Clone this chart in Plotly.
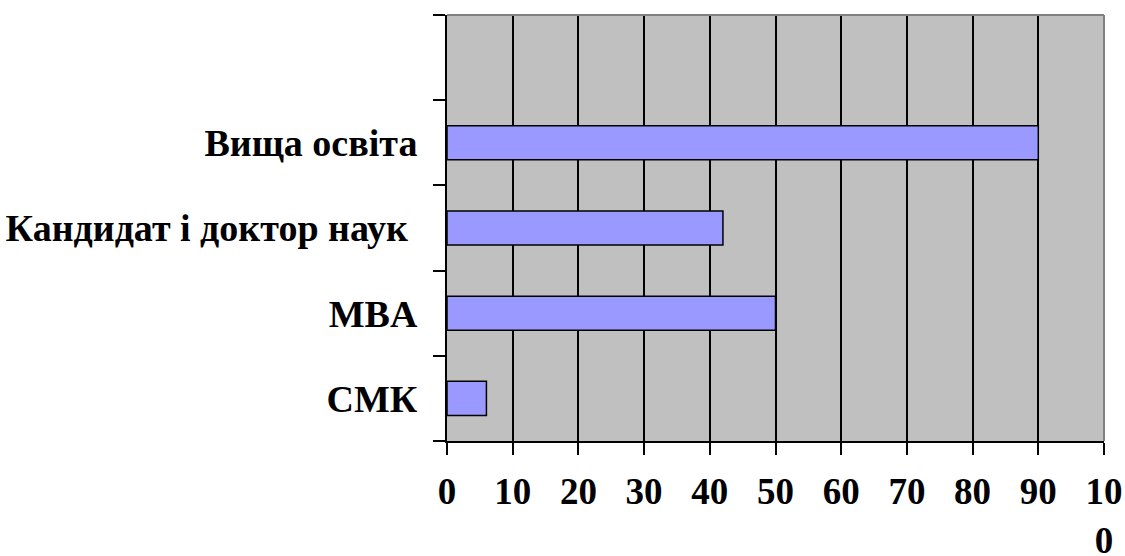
import plotly.graph_objects as go

# Categories listed bottom to top; the top slot is left empty
categories = ["СМК", "MBA", "Кандидат і доктор наук ", "Вища освіта", " "]
values = [6, 50, 42, 90, None]

x_ticks = [0, 10, 20, 30, 40, 50, 60, 70, 80, 90, 100]
x_tick_labels = ["0", "10", "20", "30", "40", "50", "60", "70", "80", "90", "10<br>0"]

font_family = "Liberation Serif, Times New Roman, serif"

fig = go.Figure(
    go.Bar(
        x=values,
        y=categories,
        orientation="h",
        marker=dict(color="#9999FF", line=dict(color="black", width=1.5)),
        width=0.4,
    )
)

fig.update_layout(
    width=1125,
    height=556,
    margin=dict(l=447, r=21, t=15, b=115),
    paper_bgcolor="white",
    plot_bgcolor="#C0C0C0",
    showlegend=False,
    font=dict(family=font_family, color="black", size=38),
    shapes=[
        dict(type="line", xref="paper", yref="paper", x0=0, x1=1, y0=1, y1=1,
             line=dict(color="#808080", width=2)),
        dict(type="line", xref="paper", yref="paper", x0=1, x1=1, y0=0, y1=1,
             line=dict(color="#808080", width=2)),
    ],
)

fig.update_xaxes(
    range=[0, 100],
    automargin=False,
    tickmode="array",
    tickvals=x_ticks,
    ticktext=x_tick_labels,
    showgrid=True,
    gridcolor="black",
    gridwidth=2,
    zeroline=False,
    showline=True,
    linecolor="black",
    linewidth=2,
    ticks="outside",
    ticklen=12,
    tickwidth=2,
    tickcolor="black",
    ticklabelstandoff=5,
    tickfont=dict(family=font_family, size=37, color="black", weight="bold"),
)

fig.update_yaxes(
    type="category",
    automargin=False,
    categoryorder="array",
    categoryarray=categories,
    range=[-0.5, 4.5],
    tickson="boundaries",
    showgrid=False,
    zeroline=False,
    showline=True,
    linecolor="black",
    linewidth=2,
    ticks="outside",
    ticklen=12,
    tickwidth=2,
    tickcolor="black",
    ticklabelstandoff=20,
    tickfont=dict(family=font_family, size=38, color="black", weight="bold"),
)

fig.write_html("out.html")
